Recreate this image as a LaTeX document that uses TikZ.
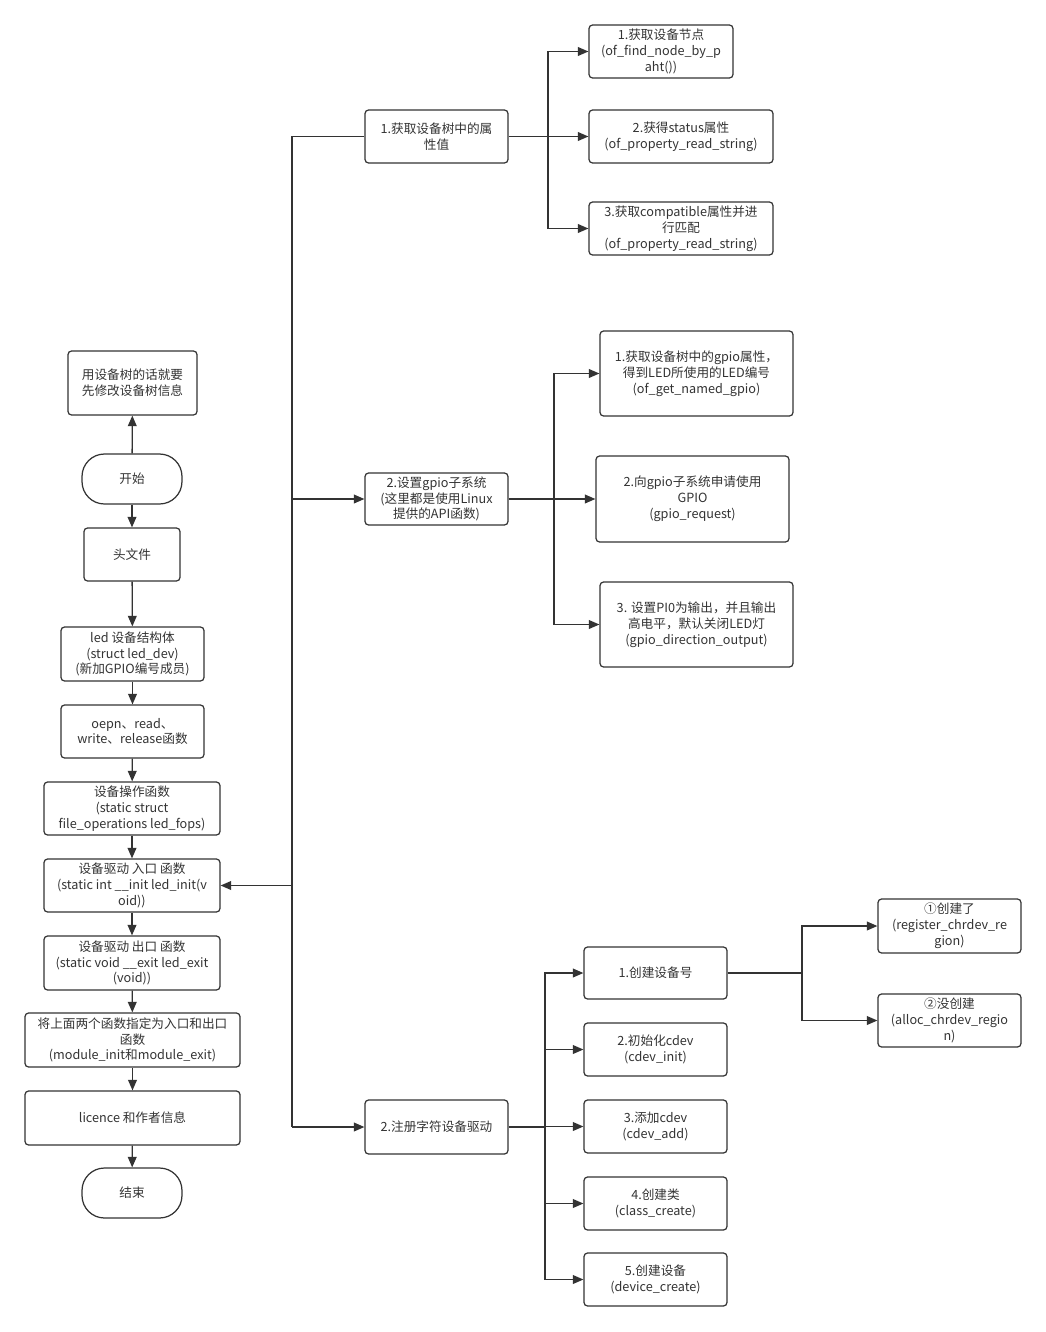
\documentclass[tikz,border=0pt]{standalone}
\usepackage{fontspec}
\setmainfont{Noto Sans CJK SC}
\usetikzlibrary{arrows.meta}
\definecolor{linegray}{HTML}{333333}

\tikzset{
  box/.style={draw=linegray, line width=0.7pt, rounded corners=2pt, align=center,
    inner sep=1pt, text=linegray, font=\fontsize{7.2}{9}\selectfont},
  term/.style={box, rounded corners=0.45cm},
  link/.style={draw=linegray, line width=0.75pt},
  flow/.style={link, -{Triangle[length=6pt,width=5pt]}},
}

\begin{document}
\begin{tikzpicture}[x=0.02cm, y=-0.02cm]
\useasboundingbox (0,0) rectangle (1045,1332);

% main flow (left column)
\node[box, minimum width=2.58cm, minimum height=1.28cm] (dts) at (132.5,383) {用设备树的话就要\\先修改设备树信息};
\node[term, minimum width=2cm, minimum height=1cm] (start) at (132,479) {开始};
\node[box, minimum width=1.92cm, minimum height=1.06cm] (head) at (132,554.5) {头文件};
\node[box, minimum width=2.86cm, minimum height=1.08cm] (dev) at (132.5,654) {led 设备结构体\\(struct led\_dev)\\(新加GPIO编号成员)};
\node[box, minimum width=2.86cm, minimum height=1.06cm] (ops) at (132.5,731.5) {oepn、read、\\write、release函数};
\node[box, minimum width=3.52cm, minimum height=1.06cm] (fops) at (132,808.5) {设备操作函数\\(static struct\\file\_operations led\_fops)};
\node[box, minimum width=3.52cm, minimum height=1.06cm] (init) at (132,885.5) {设备驱动 入口 函数\\(static int \_\_init led\_init(v\\oid))};
\node[box, minimum width=3.52cm, minimum height=1.08cm] (exit) at (132,963) {设备驱动 出口 函数\\(static void \_\_exit led\_exit\\(void))};
\node[box, minimum width=4.3cm, minimum height=1.08cm] (mod) at (132.5,1040) {将上面两个函数指定为入口和出口\\函数\\(module\_init和module\_exit)};
\node[box, minimum width=4.3cm, minimum height=1.08cm] (lic) at (132.5,1118) {licence 和作者信息};
\node[term, minimum width=2cm, minimum height=1cm] (end) at (132,1193) {结束};

\draw[flow] (start) -- (dts);
\draw[flow] (start) -- (head);
\draw[flow] (head) -- (dev);
\draw[flow] (dev) -- (ops);
\draw[flow] (ops) -- (fops);
\draw[flow] (fops) -- (init);
\draw[flow] (init) -- (exit);
\draw[flow] (exit) -- (mod);
\draw[flow] (mod) -- (lic);
\draw[flow] (lic) -- (end);

% three steps of the init function
\node[box, minimum width=2.86cm, minimum height=1.06cm] (prop) at (436.5,136.5) {1.获取设备树中的属\\性值};
\node[box, minimum width=2.86cm, minimum height=1.04cm] (gpio) at (436.5,499) {2.设置gpio子系统\\(这里都是使用Linux\\提供的API函数)};
\node[box, minimum width=2.86cm, minimum height=1.08cm] (reg) at (436.5,1127) {2.注册字符设备驱动};

\coordinate (trunk) at (292,0);
\draw[link] (prop.west) -| (trunk |- reg.west);
\draw[flow] (trunk |- init.east) -- (init.east);
\draw[flow] (trunk |- gpio.west) -- (gpio.west);
\draw[flow] (trunk |- reg.west) -- (reg.west);

% device tree properties
\node[box, minimum width=2.88cm, minimum height=1.06cm] (p1) at (661,51.5) {1.获取设备节点\\(of\_find\_node\_by\_p\\aht())};
\node[box, minimum width=3.68cm, minimum height=1.06cm] (p2) at (681,136.5) {2.获得status属性\\(of\_property\_read\_string)};
\node[box, minimum width=3.68cm, minimum height=1.06cm] (p3) at (681,228.5) {3.获取compatible属性并进\\行匹配\\(of\_property\_read\_string)};

\coordinate (pb) at (548,0);
\draw[link] (prop.east) -- (pb |- prop.east);
\foreach \n in {p1,p2,p3}
  \draw[flow] (pb |- prop.east) |- (\n.west);

% gpio subsystem
\node[box, minimum width=3.86cm, minimum height=1.7cm] (g1) at (696.5,373.5) {1.获取设备树中的gpio属性，\\得到LED所使用的LED编号\\(of\_get\_named\_gpio)};
\node[box, minimum width=3.86cm, minimum height=1.72cm] (g2) at (692.5,499) {2.向gpio子系统申请使用\\GPIO\\(gpio\_request)};
\node[box, minimum width=3.86cm, minimum height=1.7cm] (g3) at (696.5,624.5) {3. 设置PI0为输出，并且输出\\高电平，默认关闭LED灯\\(gpio\_direction\_output)};

\coordinate (gb) at (554,0);
\draw[link] (gpio.east) -- (gb |- gpio.east);
\foreach \n in {g1,g2,g3}
  \draw[flow] (gb |- gpio.east) |- (\n.west);

% character device registration
\node[box, minimum width=2.86cm, minimum height=1.04cm] (r1) at (655.5,973) {1.创建设备号};
\node[box, minimum width=2.86cm, minimum height=1.06cm] (r2) at (655.5,1049.5) {2.初始化cdev\\(cdev\_init)};
\node[box, minimum width=2.86cm, minimum height=1.06cm] (r3) at (655.5,1126.5) {3.添加cdev\\(cdev\_add)};
\node[box, minimum width=2.86cm, minimum height=1.06cm] (r4) at (655.5,1203.5) {4.创建类\\(class\_create)};
\node[box, minimum width=2.86cm, minimum height=1.06cm] (r5) at (655.5,1279.5) {5.创建设备\\(device\_create)};

\coordinate (rb) at (545,0);
\draw[link] (reg.east) -- (rb |- reg.east);
\foreach \n in {r1,r2,r3,r4,r5}
  \draw[flow] (rb |- reg.east) |- (\n.west);

% device number
\node[box, minimum width=2.86cm, minimum height=1.08cm] (c1) at (949.5,926) {①创建了\\(register\_chrdev\_re\\gion)};
\node[box, minimum width=2.86cm, minimum height=1.06cm] (c2) at (949.5,1020.5) {②没创建\\(alloc\_chrdev\_regio\\n)};

\coordinate (cb) at (802,0);
\draw[link] (r1.east) -- (cb |- r1.east);
\foreach \n in {c1,c2}
  \draw[flow] (cb |- r1.east) |- (\n.west);
\end{tikzpicture}
\end{document}
